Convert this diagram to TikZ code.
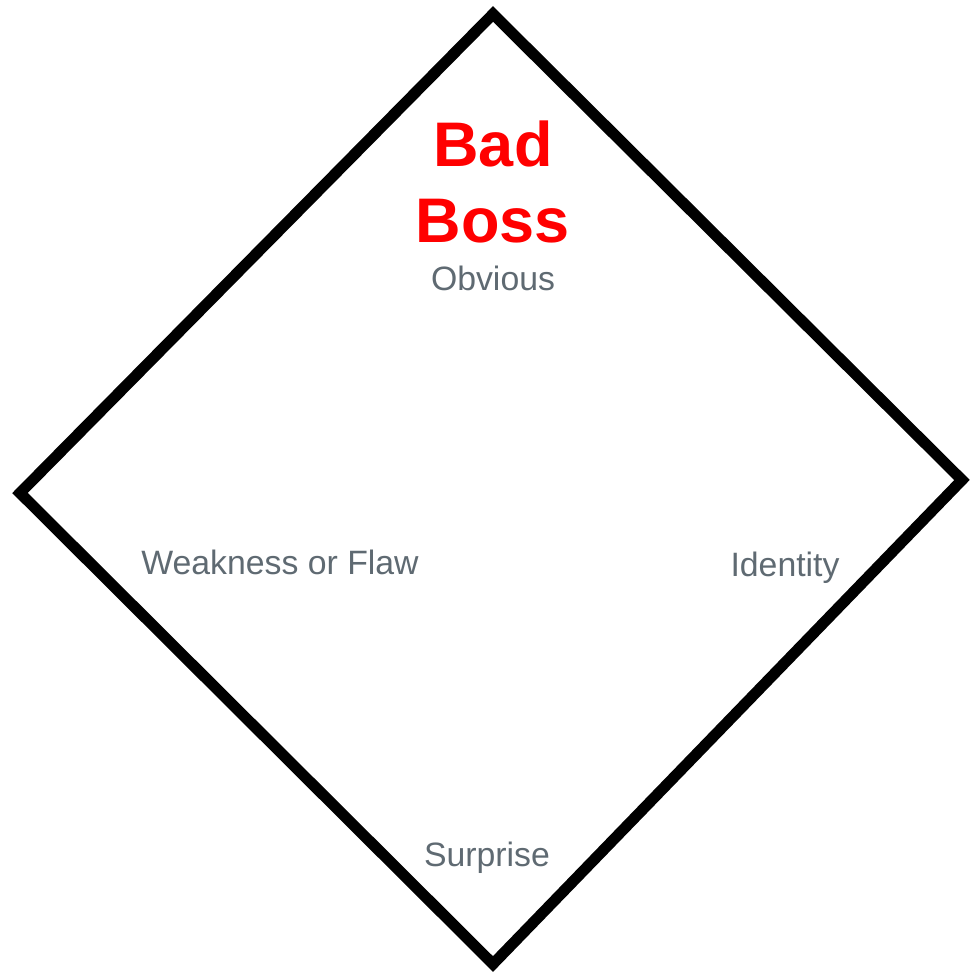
\documentclass[tikz,border=0pt]{standalone}
\usepackage{fontspec}
\setmainfont{Liberation Sans}
\definecolor{lblgray}{HTML}{5F6A72}
\definecolor{bossred}{HTML}{FF0000}
\begin{document}
\begin{tikzpicture}[x=1pt,y=-1pt,
  frame/.style={draw=black,line width=11pt,line join=miter},
  lbl/.style={text=lblgray,font=\fontsize{33.8}{40}\selectfont,anchor=base,inner sep=0pt},
  title/.style={text=bossred,font=\fontsize{63}{76}\selectfont\bfseries,anchor=base,inner sep=0pt}]
\useasboundingbox (0,0) rectangle (974,976);
\coordinate (T) at (493,14);
\coordinate (R) at (962,480);
\coordinate (B) at (493,964);
\coordinate (L) at (20,493);
\draw[frame] (T) -- (R) -- (B) -- (L) -- cycle;
\node[title] (bad) at (493,167) {Bad};
\node[title] (boss) at (493,242) {Boss};
\node[lbl] (obv) at (493,290) {Obvious};
\node[lbl] (weak) at (280,574) {Weakness or Flaw};
\node[lbl] (ident) at (785,576) {Identity};
\node[lbl] (surp) at (487,866) {Surprise};
\end{tikzpicture}
\end{document}
